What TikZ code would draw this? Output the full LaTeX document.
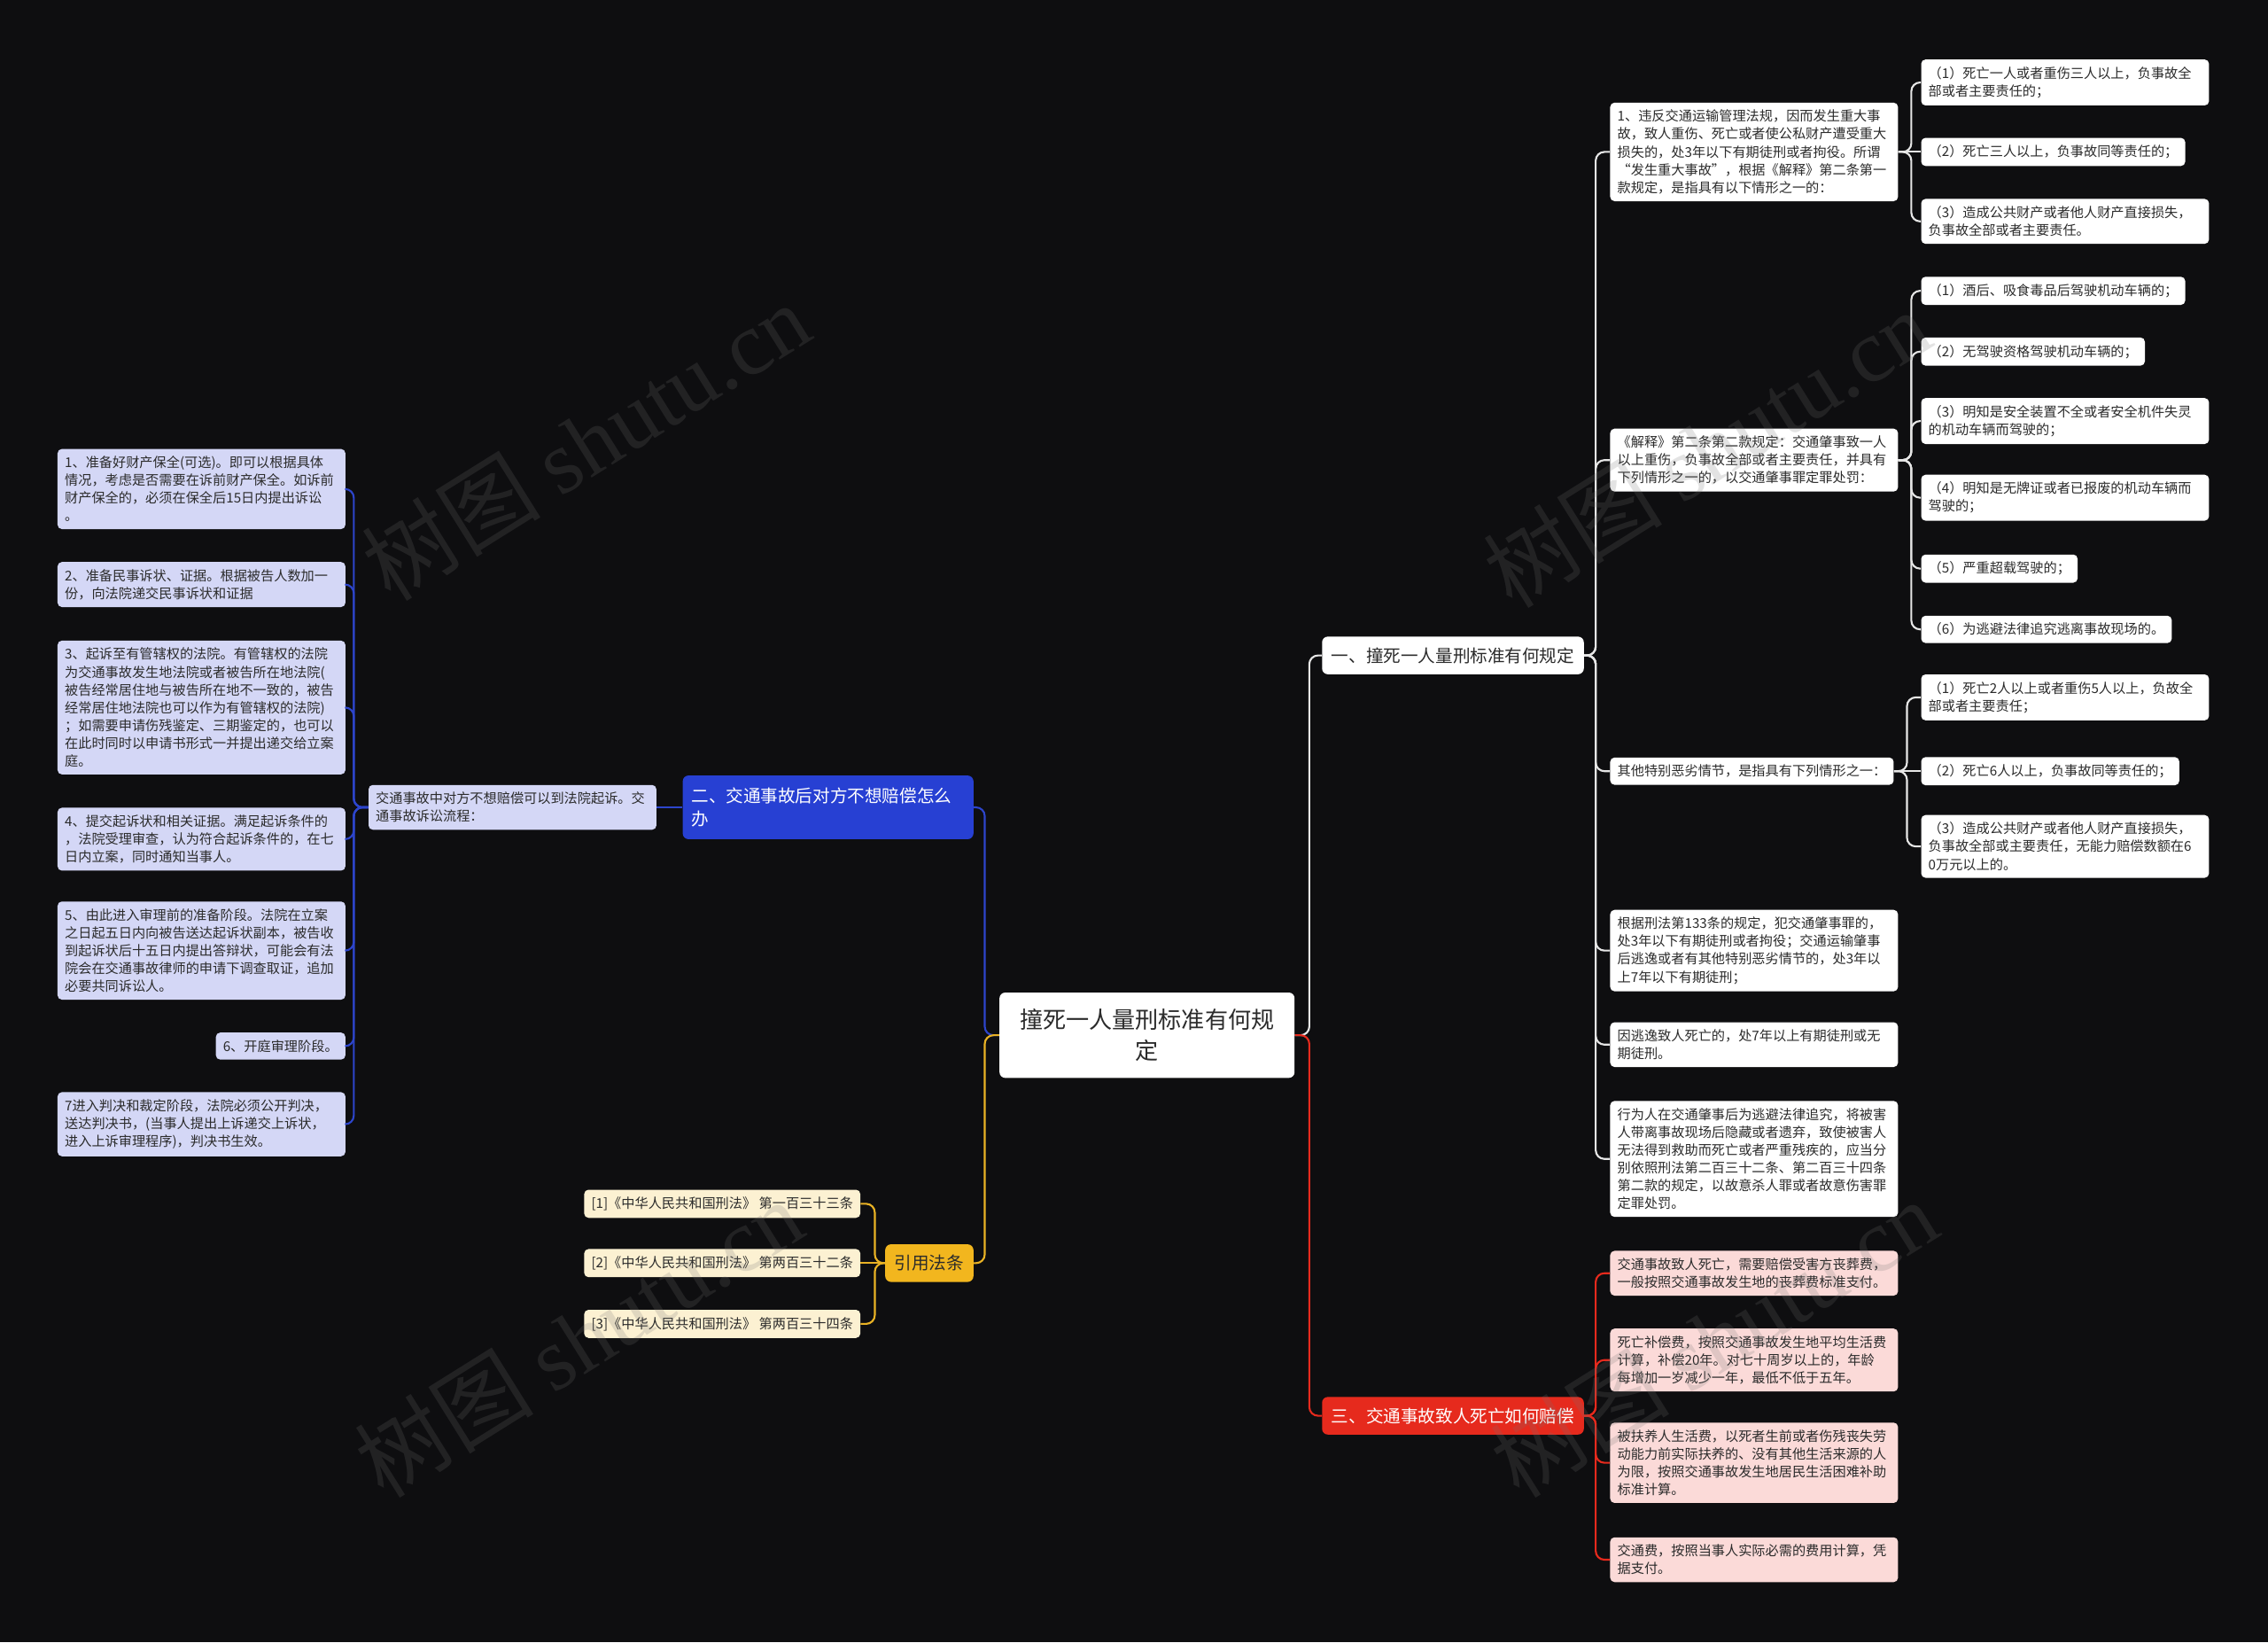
\documentclass[tikz,border=0pt]{standalone}
\usepackage{fontspec}
\setmainfont{Noto Sans CJK SC}
\newfontfamily\wmserif{Liberation Serif}
\definecolor{bg}{HTML}{0E0E10}
\definecolor{txt}{HTML}{2B2B2B}
\definecolor{lav}{HTML}{D4D7F6}
\definecolor{pinkc}{HTML}{FBDAD8}
\definecolor{cream}{HTML}{FCF1D2}
\definecolor{blueb}{HTML}{2740D3}
\definecolor{bluel}{HTML}{2D45CC}
\definecolor{redb}{HTML}{E62A1D}
\definecolor{yelb}{HTML}{F2B61E}
\definecolor{yell}{HTML}{E9B224}
\definecolor{wl}{HTML}{E6E6E6}
\tikzset{
  base/.style={rounded corners=3pt, inner xsep=5pt, inner ysep=5pt, text=txt,
    font=\fontsize{9.3}{12.3}\selectfont, align=left},
  wbox/.style={base, fill=white},
  lbox/.style={base, fill=lav},
  pbox/.style={base, fill=pinkc},
  ybox/.style={base, fill=cream},
  wide/.style={text width=189pt},
  bigbox/.style={rounded corners=4pt, inner xsep=6.5pt, inner ysep=4pt,
    font=\fontsize{12}{16}\selectfont, minimum height=26pt},
  conn/.style={line width=1.3pt, rounded corners=6pt},
  wline/.style={conn, draw=wl},
  bline/.style={conn, draw=bluel},
  rline/.style={conn, draw=redb},
  yline/.style={conn, draw=yell},
  wm/.style={rotate=32, text=black!55, opacity=0.2, font=\fontsize{62}{62}\selectfont}
}
\begin{document}
\begin{tikzpicture}[x=1pt,y=-1pt]
\useasboundingbox (0,0) rectangle (1568,1135);
\fill[bg] (0,0) rectangle (1568,1135);

% centre and branches
\node[fill=white, rounded corners=4pt, text=txt, align=center, text width=192pt,
  inner xsep=6pt, minimum height=59pt, font=\fontsize{16}{21}\selectfont] (C) at (793,715.5) {撞死一人量刑标准有何规\\定};
\node[bigbox, fill=white, text=txt] (B1) at (1004.5,453) {一、撞死一人量刑标准有何规定};
\node[bigbox, fill=redb, text=white] (B3) at (1004.5,978.5) {三、交通事故致人死亡如何赔偿};
\node[bigbox, fill=blueb, text=white, text width=189pt, align=left, inner xsep=6pt, minimum height=44pt] (B2) at (572.5,558) {二、交通事故后对方不想赔偿怎么\\办};
\node[bigbox, fill=yelb, text=txt] (B4) at (642.5,873) {引用法条};

% branch 1 children
\node[wbox, wide, anchor=west] (R1) at (1113,105) {1、违反交通运输管理法规，因而发生重大事\\故，致人重伤、死亡或者使公私财产遭受重大\\损失的，处3年以下有期徒刑或者拘役。所谓\\“发生重大事故”，根据《解释》第二条第一\\款规定，是指具有以下情形之一的：};
\node[wbox, wide, anchor=west] (R2) at (1113,318) {《解释》第二条第二款规定：交通肇事致一人\\以上重伤，负事故全部或者主要责任，并具有\\下列情形之一的，以交通肇事罪定罪处罚：};
\node[wbox, anchor=west] (R3) at (1113,533) {其他特别恶劣情节，是指具有下列情形之一：};
\node[wbox, wide, anchor=west] (R4) at (1113,657) {根据刑法第133条的规定，犯交通肇事罪的，\\处3年以下有期徒刑或者拘役；交通运输肇事\\后逃逸或者有其他特别恶劣情节的，处3年以\\上7年以下有期徒刑；};
\node[wbox, wide, anchor=west] (R5) at (1113,722) {因逃逸致人死亡的，处7年以上有期徒刑或无\\期徒刑。};
\node[wbox, wide, anchor=west] (R6) at (1113,801) {行为人在交通肇事后为逃避法律追究，将被害\\人带离事故现场后隐藏或者遗弃，致使被害人\\无法得到救助而死亡或者严重残疾的，应当分\\别依照刑法第二百三十二条、第二百三十四条\\第二款的规定，以故意杀人罪或者故意伤害罪\\定罪处罚。};

\node[wbox, wide, anchor=west] (R1a) at (1328,57) {（1）死亡一人或者重伤三人以上，负事故全\\部或者主要责任的；};
\node[wbox, anchor=west] (R1b) at (1328,105) {（2）死亡三人以上，负事故同等责任的；};
\node[wbox, wide, anchor=west] (R1c) at (1328,153) {（3）造成公共财产或者他人财产直接损失，\\负事故全部或者主要责任。};

\node[wbox, anchor=west] (R2a) at (1328,201) {（1）酒后、吸食毒品后驾驶机动车辆的；};
\node[wbox, anchor=west] (R2b) at (1328,243) {（2）无驾驶资格驾驶机动车辆的；};
\node[wbox, wide, anchor=west] (R2c) at (1328,291) {（3）明知是安全装置不全或者安全机件失灵\\的机动车辆而驾驶的；};
\node[wbox, wide, anchor=west] (R2d) at (1328,344) {（4）明知是无牌证或者已报废的机动车辆而\\驾驶的；};
\node[wbox, anchor=west] (R2e) at (1328,393) {（5）严重超载驾驶的；};
\node[wbox, anchor=west] (R2f) at (1328,435) {（6）为逃避法律追究逃离事故现场的。};

\node[wbox, wide, anchor=west] (R3a) at (1328,482) {（1）死亡2人以上或者重伤5人以上，负故全\\部或者主要责任；};
\node[wbox, anchor=west] (R3b) at (1328,533) {（2）死亡6人以上，负事故同等责任的；};
\node[wbox, wide, anchor=west] (R3c) at (1328,585) {（3）造成公共财产或者他人财产直接损失，\\负事故全部或主要责任，无能力赔偿数额在6\\0万元以上的。};

% branch 3 children
\node[pbox, wide, anchor=west] (P1) at (1113,880) {交通事故致人死亡，需要赔偿受害方丧葬费，\\一般按照交通事故发生地的丧葬费标准支付。};
\node[pbox, wide, anchor=west] (P2) at (1113,940) {死亡补偿费，按照交通事故发生地平均生活费\\计算，补偿20年。对七十周岁以上的，年龄\\每增加一岁减少一年，最低不低于五年。};
\node[pbox, wide, anchor=west] (P3) at (1113,1011) {被扶养人生活费，以死者生前或者伤残丧失劳\\动能力前实际扶养的、没有其他生活来源的人\\为限，按照交通事故发生地居民生活困难补助\\标准计算。};
\node[pbox, wide, anchor=west] (P4) at (1113,1078) {交通费，按照当事人实际必需的费用计算，凭\\据支付。};

% branch 2 children
\node[lbox, wide, anchor=east] (M) at (454,558) {交通事故中对方不想赔偿可以到法院起诉。交\\通事故诉讼流程：};
\node[lbox, wide, anchor=east] (L1) at (239,338) {1、准备好财产保全(可选)。即可以根据具体\\情况，考虑是否需要在诉前财产保全。如诉前\\财产保全的，必须在保全后15日内提出诉讼\\。};
\node[lbox, wide, anchor=east] (L2) at (239,404) {2、准备民事诉状、证据。根据被告人数加一\\份，向法院递交民事诉状和证据};
\node[lbox, wide, anchor=east] (L3) at (239,489) {3、起诉至有管辖权的法院。有管辖权的法院\\为交通事故发生地法院或者被告所在地法院(\\被告经常居住地与被告所在地不一致的，被告\\经常居住地法院也可以作为有管辖权的法院)\\；如需要申请伤残鉴定、三期鉴定的，也可以\\在此时同时以申请书形式一并提出递交给立案\\庭。};
\node[lbox, wide, anchor=east] (L4) at (239,580) {4、提交起诉状和相关证据。满足起诉条件的\\，法院受理审查，认为符合起诉条件的，在七\\日内立案，同时通知当事人。};
\node[lbox, wide, anchor=east] (L5) at (239,657) {5、由此进入审理前的准备阶段。法院在立案\\之日起五日内向被告送达起诉状副本，被告收\\到起诉状后十五日内提出答辩状，可能会有法\\院会在交通事故律师的申请下调查取证，追加\\必要共同诉讼人。};
\node[lbox, anchor=east] (L6) at (239,723) {6、开庭审理阶段。};
\node[lbox, wide, anchor=east] (L7) at (239,777) {7进入判决和裁定阶段，法院必须公开判决，\\送达判决书，(当事人提出上诉递交上诉状，\\进入上诉审理程序)，判决书生效。};

% citations
\node[ybox, anchor=east] (C1) at (595,832) {[1]《中华人民共和国刑法》 第一百三十三条};
\node[ybox, anchor=east] (C2) at (595,873) {[2]《中华人民共和国刑法》 第两百三十二条};
\node[ybox, anchor=east] (C3) at (595,915) {[3]《中华人民共和国刑法》 第两百三十四条};

% connectors
\draw[wline] (C.east) -- ++(10,0) |- (B1.west);
\draw[rline] (C.east) -- ++(10,0) |- (B3.west);
\draw[bline] (C.west) -- ++(-10,0) |- (B2.east);
\draw[yline] (C.west) -- ++(-10,0) |- (B4.east);

\foreach \n in {R1,R2,R3,R4,R5,R6}
  \draw[wline] (B1.east) -- ++(8,0) |- (\n.west);
\draw[wline] (R1.east) -- ++(9,0) |- (R1a.west);
\draw[wline] (R1.east) -- (R1b.west);
\draw[wline] (R1.east) -- ++(9,0) |- (R1c.west);
\foreach \n in {R2a,R2b,R2c,R2d,R2e,R2f}
  \draw[wline] (R2.east) -- ++(9,0) |- (\n.west);
\draw[wline] (R3.east) -- ++(9,0) |- (R3a.west);
\draw[wline] (R3.east) -- (R3b.west);
\draw[wline] (R3.east) -- ++(9,0) |- (R3c.west);

\foreach \n in {P1,P2,P3,P4}
  \draw[rline] (B3.east) -- ++(8,0) |- (\n.west);

\draw[bline] (B2.west) -- (M.east);
\foreach \n in {L1,L2,L3,L4,L5,L6,L7}
  \draw[bline] (M.west) -- ++(-10,0) |- (\n.east);

\draw[yline] (B4.west) -- ++(-7,0) |- (C1.east);
\draw[yline] (B4.west) -- (C2.east);
\draw[yline] (B4.west) -- ++(-7,0) |- (C3.east);

% watermarks
\node[wm] (W1) at (405,305) {树图 {\wmserif shutu.cn}};
\node[wm] (W2) at (1180,310) {树图 {\wmserif shutu.cn}};
\node[wm] (W3) at (400,925) {树图 {\wmserif shutu.cn}};
\node[wm] (W4) at (1185,925) {树图 {\wmserif shutu.cn}};
\end{tikzpicture}
\end{document}
